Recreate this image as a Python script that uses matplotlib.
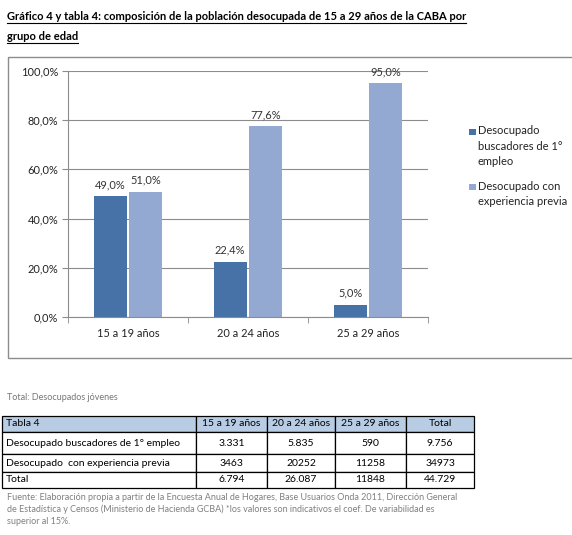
import matplotlib.pyplot as plt
from matplotlib.patches import Rectangle
from matplotlib.lines import Line2D
import numpy as np

plt.rcParams['font.family'] = ['Lato', 'DejaVu Sans']

# datos del grafico
grupos = ['15 a 19 años', '20 a 24 años', '25 a 29 años']
primer_empleo = [49.0, 22.4, 5.0]
con_experiencia = [51.0, 77.6, 95.0]
serie_nombres = ['Desocupado\nbuscadores de 1°\nempleo', 'Desocupado con\nexperiencia previa']
serie_colores = ['#4672A8', '#94A9D2']
yticks = [0, 20, 40, 60, 80, 100]

# datos de la tabla
tabla_cols = ['Tabla 4', '15 a 19 años', '20 a 24 años', '25 a 29 años', 'Total']
fila_primer = ['Desocupado buscadores de 1° empleo', '3.331', '5.835', '590', '9.756']
fila_exper = ['Desocupado  con experiencia previa', '3463', '20252', '11258', '34973']
fila_total = ['Total', '6.794', '26.087', '11848', '44.729']

titulo = ['Gráfico 4 y tabla 4: composición de la población desocupada de 15 a 29 años de la CABA por',
          'grupo de edad']
fuente = ['Fuente: Elaboración propia a partir de la Encuesta Anual de Hogares, Base Usuarios Onda 2011, Dirección General',
          'de Estadística y Censos (Ministerio de Hacienda GCBA) *los valores son indicativos el coef. De variabilidad es',
          'superior al 15%.']

W, H = 572, 535
fig = plt.figure(figsize=(W / 100, H / 100), dpi=100)

# capa de fondo en pixeles
bg = fig.add_axes([0, 0, 1, 1])
bg.set_xlim(0, W)
bg.set_ylim(H, 0)
bg.axis('off')

# titulo subrayado
fig.canvas.draw()
r = fig.canvas.get_renderer()
for i, linea in enumerate(titulo):
    y = 16 + i * 20
    t = bg.text(7, y, linea, fontsize=8.0, fontweight='bold', va='center', ha='left', color='black')
    bb = t.get_window_extent(renderer=r)
    bg.add_line(Line2D([7, 7 + bb.width], [y + 7, y + 7], color='black', lw=0.8))

# marco del grafico
bg.add_patch(Rectangle((8, 57), 570, 301, fill=False, edgecolor='#8c8c8c', lw=1.0))

# grafico de barras
ax = fig.add_axes([68 / W, (H - 317) / H, 360 / W, (317 - 71) / H])
x = np.arange(len(grupos))
ancho = 0.275
b1 = ax.bar(x - ancho / 2 - 0.012, primer_empleo, ancho, color=serie_colores[0])
b2 = ax.bar(x + ancho / 2 + 0.012, con_experiencia, ancho, color=serie_colores[1])
for barras, vals in ((b1, primer_empleo), (b2, con_experiencia)):
    for b, v in zip(barras, vals):
        ax.text(b.get_x() + b.get_width() / 2, v + 2.5, f'{v:.1f}%'.replace('.', ','),
                ha='center', va='bottom', fontsize=7.9, color='#333333')

ax.set_xlim(-0.5, len(grupos) - 0.5)
ax.set_ylim(0, 100)
ax.set_yticks(yticks)
ax.set_yticklabels([f'{v:.1f}%'.replace('.', ',') for v in yticks])
ax.set_xticks(x)
ax.set_xticklabels(grupos)
ax.set_xticks(np.arange(-0.5, len(grupos)), minor=True)
ax.tick_params(axis='x', which='major', length=0, pad=8, labelsize=7.9, labelcolor='#222222')
ax.tick_params(axis='x', which='minor', length=4, color='#8c8c8c', direction='out')
ax.tick_params(axis='y', length=4, color='#8c8c8c', labelsize=7.9, labelcolor='#222222', pad=3)
ax.grid(axis='y', color='#8c8c8c', lw=0.8)
ax.set_axisbelow(True)
for s in ['top', 'right']:
    ax.spines[s].set_visible(False)
for s in ['left', 'bottom']:
    ax.spines[s].set_color('#8c8c8c')

# leyenda (cuadro arriba, alineado con la primera linea)
ley_y = [132, 187]
for nombre, col, yl in zip(serie_nombres, serie_colores, ley_y):
    bg.add_patch(Rectangle((469, yl - 3.5), 6.5, 6.5, facecolor=col, edgecolor='none'))
    bg.text(478, yl - 6.5, nombre, fontsize=8.0, color='#222222', va='top', ha='left',
            linespacing=1.45)

# textos de la tabla
bg.text(7, 397, 'Total: Desocupados jóvenes', fontsize=6.5, color='#777777', va='center')

tb = fig.add_axes([2 / W, (H - 488) / H, 472 / W, 72 / H])
tb.axis('off')
tabla = tb.table(cellText=[fila_primer, fila_exper, fila_total], colLabels=tabla_cols,
                 colWidths=[194, 71, 68, 71, 68], bbox=[0, 0, 1, 1], cellLoc='center')
tabla.auto_set_font_size(False)
alturas = [16, 22, 18, 16]
for (fi, co), celda in tabla.get_celld().items():
    celda.set_height(alturas[fi])
    celda.set_linewidth(0.9)
    celda.get_text().set_fontsize(7.5)
    if fi == 0:
        celda.set_facecolor('#B8CCE4')
    if co == 0:
        celda.get_text().set_ha('left')
        celda.PAD = 0.02

for i, linea in enumerate(fuente):
    bg.text(7, 497 + i * 12, linea, fontsize=6.5, color='#808080', va='center')

fig.savefig('out.png', dpi=100)
